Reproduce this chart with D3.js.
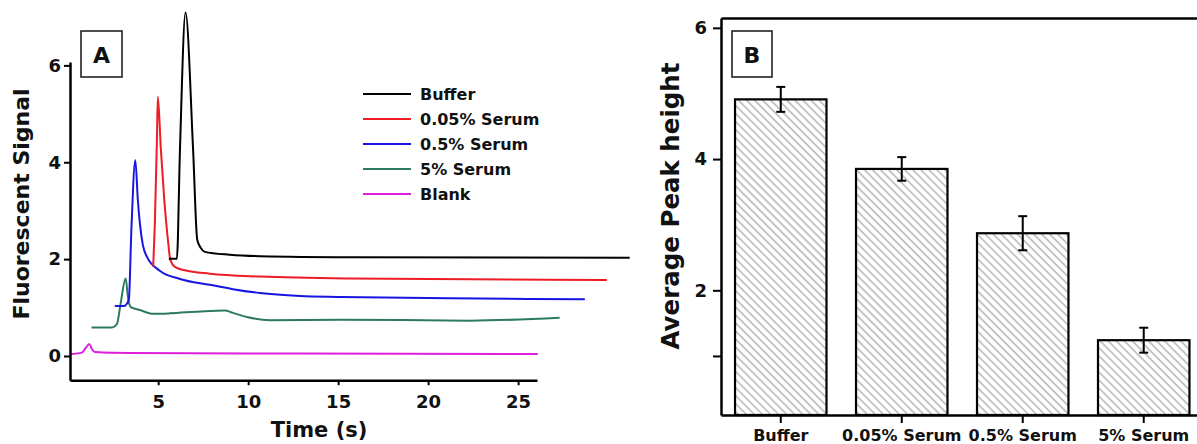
<!DOCTYPE html>
<html><head><meta charset="utf-8">
<script src="https://cdn.jsdelivr.net/npm/d3@7"></script>
<style>
html,body{margin:0;padding:0;background:#fff;}
svg{display:block;font-family:"DejaVu Sans",sans-serif;font-weight:bold;}
</style></head><body>
<svg id="chart" width="1197" height="444"></svg>
<script>
// ---------- Panel A data ----------
const seriesNames = ["Buffer", "0.05% Serum", "0.5% Serum", "5% Serum", "Blank"];
const bufferTime   = [5.59, 6.04, 6.21, 6.52, 6.94, 7.17, 7.37, 7.59, 8.98, 10.65, 15.65, 31.2];
const bufferSignal = [2.01, 2.01, 4.26, 7.09, 4.26, 2.40, 2.23, 2.15, 2.09, 2.06, 2.04, 2.03];
const serum005Time   = [4.72, 4.82, 4.93, 4.98, 5.15, 5.34, 5.54, 5.68, 5.93, 6.48, 7.87, 10.65, 15.65, 29.93];
const serum005Signal = [1.84, 2.81, 4.46, 5.35, 4.26, 3.22, 2.40, 1.98, 1.84, 1.77, 1.70, 1.64, 1.60, 1.57];
const serum05Time   = [2.59, 3.09, 3.37, 3.51, 3.73, 3.87, 3.98, 4.15, 4.37, 5.09, 6.21, 7.87, 9.15, 10.65, 12.87, 15.09, 21.2, 28.71];
const serum05Signal = [1.03, 1.03, 1.16, 2.60, 4.04, 3.22, 2.75, 2.29, 2.05, 1.76, 1.59, 1.47, 1.38, 1.30, 1.24, 1.22, 1.19, 1.17];
const serum5Time   = [1.30, 2.43, 2.71, 2.90, 3.19, 3.34, 3.48, 3.98, 4.71, 5.65, 7.32, 8.71, 9.15, 9.98, 11.21, 15.09, 22.31, 27.31];
const serum5Signal = [0.59, 0.59, 0.66, 1.05, 1.60, 1.16, 1.01, 0.95, 0.87, 0.88, 0.92, 0.94, 0.89, 0.80, 0.74, 0.75, 0.73, 0.79];
const blankTime   = [0.15, 0.76, 0.98, 1.17, 1.32, 1.48, 3.43, 12.87, 26.09];
const blankSignal = [0.04, 0.07, 0.17, 0.25, 0.14, 0.08, 0.06, 0.05, 0.04];
const timeTicks = [5, 10, 15, 20, 25];
const signalTicks = [0, 2, 4, 6];

// ---------- Panel B data ----------
const categories = ["Buffer", "0.05% Serum", "0.5% Serum", "5% Serum"];
const peakMeans  = [4.91, 3.85, 2.87, 1.24];
const peakErrors = [0.19, 0.18, 0.26, 0.19];
const peakTicks  = [1, 2, 4, 6];

// ---------- styles ----------
const seriesColors = ["#000000", "#ee1c25", "#1616e0", "#2e7b5b", "#dc1fdc"];

const svg = d3.select("#chart");
svg.append("rect").attr("width", 1197).attr("height", 444).attr("fill", "#fff");

const defs = svg.append("defs");
const pat = defs.append("pattern").attr("id", "hatch")
  .attr("patternUnits", "userSpaceOnUse").attr("width", 5.7).attr("height", 5.7)
  .attr("patternTransform", "rotate(-45)");
pat.append("rect").attr("width", 5.7).attr("height", 5.7).attr("fill", "#fff");
pat.append("line").attr("x1", 1).attr("y1", 0).attr("x2", 1).attr("y2", 5.7)
  .attr("stroke", "#9a9a9a").attr("stroke-width", 1.1);

// ================= Panel A =================
const xA = d3.scaleLinear().domain([0.1, 26.05]).range([70, 537]);
const yA = d3.scaleLinear().domain([-0.5, 6.07]).range([380.2, 62]);

const gA = svg.append("g");
const series = [
  {t: bufferTime, v: bufferSignal},
  {t: serum005Time, v: serum005Signal},
  {t: serum05Time, v: serum05Signal},
  {t: serum5Time, v: serum5Signal},
  {t: blankTime, v: blankSignal}
].map((s, i) => ({name: seriesNames[i], color: seriesColors[i],
  pts: s.t.map((t, j) => [t, s.v[j]])}));

const line = d3.line().x(d => xA(d[0])).y(d => yA(d[1])).curve(d3.curveMonotoneX);
const drawOrder = [4, 3, 2, 1, 0];
drawOrder.forEach(i => {
  gA.append("path").attr("d", line(series[i].pts))
    .attr("fill", "none").attr("stroke", series[i].color)
    .attr("stroke-width", 2).attr("stroke-linejoin", "round");
});

const axA_x = gA.append("g").attr("transform", `translate(0,${yA(-0.5)})`)
  .call(d3.axisBottom(xA).tickValues(timeTicks).tickFormat(d3.format("d"))
    .tickSize(5).tickSizeOuter(0).tickPadding(10));
const axA_y = gA.append("g").attr("transform", `translate(${xA(0.1)},0)`)
  .call(d3.axisLeft(yA).tickValues(signalTicks).tickFormat(d3.format("d"))
    .tickSize(6).tickSizeOuter(0).tickPadding(3));
[axA_x, axA_y].forEach(a => {
  a.select(".domain").attr("stroke", "#000").attr("stroke-width", 2.5);
  a.selectAll(".tick line").attr("stroke", "#000").attr("stroke-width", 2);
  a.selectAll(".tick text").attr("font-size", 18).attr("font-weight", "bold")
    .attr("font-family", "DejaVu Sans").attr("fill", "#111");
});

gA.append("text").attr("x", 319).attr("y", 437).attr("text-anchor", "middle")
  .attr("font-size", 21).attr("fill", "#111").text("Time (s)");
gA.append("text").attr("transform", "translate(29,204) rotate(-90)")
  .attr("text-anchor", "middle").attr("font-size", 22).attr("fill", "#111")
  .text("Fluorescent Signal");

// label box A
gA.append("rect").attr("x", 81).attr("y", 31).attr("width", 41).attr("height", 46)
  .attr("fill", "#fff").attr("stroke", "#222").attr("stroke-width", 1.6);
gA.append("text").attr("x", 101.5).attr("y", 63).attr("text-anchor", "middle")
  .attr("font-size", 22).attr("fill", "#111").text("A");

// legend
const lg = gA.append("g");
series.forEach((s, i) => {
  const ly = 94 + i * 25;
  lg.append("line").attr("x1", 363).attr("x2", 411).attr("y1", ly).attr("y2", ly)
    .attr("stroke", s.color).attr("stroke-width", 2);
  lg.append("text").attr("x", 420).attr("y", ly).attr("dy", "0.36em")
    .attr("font-size", 16).attr("fill", "#111").text(s.name);
});

// ================= Panel B =================
const xB = d3.scaleBand().domain(categories).range([721, 1203.5])
  .paddingInner(0.244).paddingOuter(0.116);
const yB = d3.scaleLinear().domain([0.1, 6.15]).range([415, 18]);
const gB = svg.append("g");

gB.selectAll("rect.bar").data(categories).join("rect").attr("class", "bar")
  .attr("x", d => xB(d)).attr("width", xB.bandwidth())
  .attr("y", (d, i) => yB(peakMeans[i]))
  .attr("height", (d, i) => yB(0.1) - yB(peakMeans[i]))
  .attr("fill", "url(#hatch)").attr("stroke", "#000").attr("stroke-width", 2.2);

categories.forEach((c, i) => {
  const cx = xB(c) + xB.bandwidth() / 2;
  const hi = yB(peakMeans[i] + peakErrors[i]), lo = yB(peakMeans[i] - peakErrors[i]);
  gB.append("line").attr("x1", cx).attr("x2", cx).attr("y1", hi).attr("y2", lo)
    .attr("stroke", "#000").attr("stroke-width", 2);
  [hi, lo].forEach(yy => gB.append("line").attr("x1", cx - 4.5).attr("x2", cx + 4.5)
    .attr("y1", yy).attr("y2", yy).attr("stroke", "#000").attr("stroke-width", 2));
});

const axB_x = gB.append("g").attr("transform", `translate(0,${yB(0.1)})`)
  .call(d3.axisBottom(xB).tickSize(8).tickSizeOuter(0).tickPadding(7));
const axB_y = gB.append("g").attr("transform", `translate(721,0)`)
  .call(d3.axisLeft(yB).tickValues(peakTicks).tickFormat(d => d === 1 ? "" : d3.format("d")(d))
    .tickSize(8).tickSizeOuter(0).tickPadding(6));
const axB_top = gB.append("g").attr("transform", `translate(0,${yB(6.15)})`)
  .call(d3.axisTop(xB).tickValues([]).tickSizeOuter(0));
const axB_right = gB.append("g").attr("transform", `translate(1203.5,0)`)
  .call(d3.axisRight(yB).tickValues([]).tickSizeOuter(0));
[axB_x, axB_y, axB_top, axB_right].forEach(a => {
  a.select(".domain").attr("stroke", "#000").attr("stroke-width", 2.5);
  a.selectAll(".tick line").attr("stroke", "#000").attr("stroke-width", 2);
});
axB_x.selectAll(".tick text").attr("font-size", 16).attr("font-weight", "bold")
  .attr("font-family", "DejaVu Sans").attr("fill", "#111");
axB_y.selectAll(".tick text").attr("font-size", 18).attr("font-weight", "bold")
  .attr("font-family", "DejaVu Sans").attr("fill", "#111");

gB.append("text").attr("transform", "translate(679,206) rotate(-90)")
  .attr("text-anchor", "middle").attr("font-size", 24.5).attr("fill", "#111")
  .text("Average Peak height");

gB.append("rect").attr("x", 732).attr("y", 31).attr("width", 40).attr("height", 46)
  .attr("fill", "#fff").attr("stroke", "#222").attr("stroke-width", 1.6);
gB.append("text").attr("x", 752).attr("y", 63).attr("text-anchor", "middle")
  .attr("font-size", 22).attr("fill", "#111").text("B");
</script>
</body></html>
